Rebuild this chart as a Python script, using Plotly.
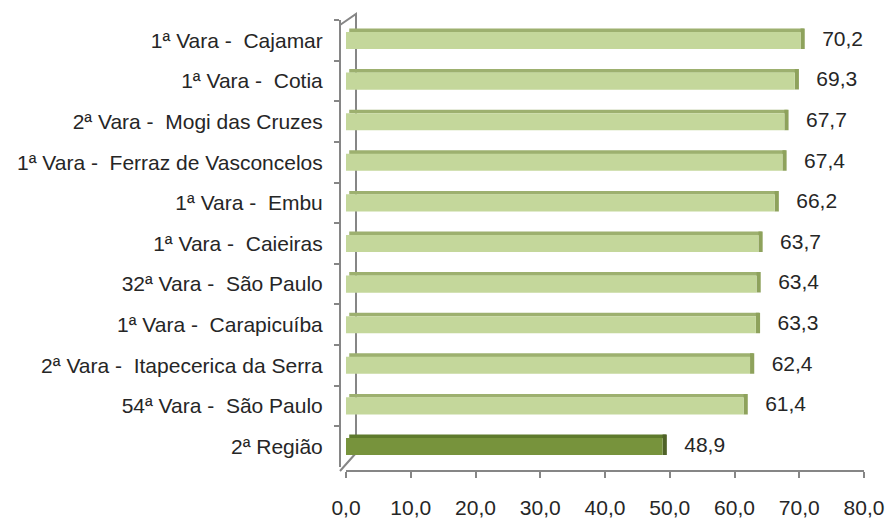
import plotly.graph_objects as go

NBSP = "\u00a0"
categories = [
    "1ª Vara - " + NBSP + "Cajamar",
    "1ª Vara - " + NBSP + "Cotia",
    "2ª Vara - " + NBSP + "Mogi das Cruzes",
    "1ª Vara - " + NBSP + "Ferraz de Vasconcelos",
    "1ª Vara - " + NBSP + "Embu",
    "1ª Vara - " + NBSP + "Caieiras",
    "32ª Vara - " + NBSP + "São Paulo",
    "1ª Vara - " + NBSP + "Carapicuíba",
    "2ª Vara - " + NBSP + "Itapecerica da Serra",
    "54ª Vara - " + NBSP + "São Paulo",
    "2ª Região",
]
values = [70.2, 69.3, 67.7, 67.4, 66.2, 63.7, 63.4, 63.3, 62.4, 61.4, 48.9]
x_ticks = [0, 10, 20, 30, 40, 50, 60, 70, 80]

n = len(categories)
front_col = ["#C4D79B"] * (n - 1) + ["#77933C"]
top_col = ["#9DB06F"] * (n - 1) + ["#5E7A2C"]
side_col = ["#8EA25C"] * (n - 1) + ["#4F6228"]

FONT = "Liberation Sans, Arial, sans-serif"
TXT = "#262626"
AX = "#868686"

OFFX, OFFY = 6, 0
W, H = 888, 519
L, R, T, B = 346 - OFFX, 870 - OFFX, 14 - OFFY, 471 - OFFY
pw, ph = R - L, B - T


def fy(py):
    return (B - (py - OFFY)) / ph


def fx(px):
    return ((px - OFFX) - L) / pw


fig = go.Figure()

# top face of the 3D bars
fig.add_trace(go.Bar(
    y=categories, x=values, base=[0.5] * n, orientation="h",
    width=0.09, offset=-0.296, marker=dict(color=top_col, line=dict(width=0)),
    xaxis="x", yaxis="y", hoverinfo="skip", showlegend=False))
# side face
fig.add_trace(go.Bar(
    y=categories, x=[0.65] * n, base=values, orientation="h",
    width=0.505, offset=-0.296, marker=dict(color=side_col, line=dict(width=0)),
    xaxis="x", yaxis="y", hoverinfo="skip", showlegend=False))
# front face
fig.add_trace(go.Bar(
    y=categories, x=values, orientation="h",
    width=0.42, offset=-0.21, marker=dict(color=front_col, line=dict(width=0)),
    xaxis="x", yaxis="y", hoverinfo="skip", showlegend=False))
# value labels
fig.add_trace(go.Scatter(
    y=categories, x=values, mode="markers+text",
    marker=dict(size=33, color="rgba(0,0,0,0)"),
    texttemplate="%{x:.1f}", textposition="middle right",
    textfont=dict(family=FONT, size=21, color=TXT),
    xaxis="x", yaxis="y", hoverinfo="skip", showlegend=False, cliponaxis=False))
# dummy trace to populate front axes
fig.add_trace(go.Scatter(
    y=categories, x=values, mode="markers", marker=dict(opacity=0),
    xaxis="x2", yaxis="y2", hoverinfo="skip", showlegend=False))

fig.update_layout(
    width=W, height=H,
    margin=dict(l=L, r=W - R, t=T, b=H - B, pad=0),
    paper_bgcolor="white", plot_bgcolor="white",
    template="none",
    separators=",.",
    barmode="overlay",
    font=dict(family=FONT, size=21, color=TXT),
    xaxis=dict(domain=[fx(352), 1], range=[0, 80], visible=False,
               anchor="y", automargin=False, fixedrange=True),
    yaxis=dict(domain=[fy(466.8), fy(20.2)], range=[n - 0.5, -0.5],
               type="category", categoryorder="array", categoryarray=categories,
               visible=False, anchor="x", automargin=False, fixedrange=True),
    xaxis2=dict(domain=[0, fx(864)], range=[0, 80], anchor="free", position=0,
                overlaying="x", tickvals=x_ticks, tickformat=".1f",
                showline=True, linecolor=AX, linewidth=2,
                ticks="outside", ticklen=6, tickwidth=2, tickcolor=AX,
                ticklabelstandoff=12, ticklabeloverflow="allow",
                showgrid=False, zeroline=False,
                tickfont=dict(family=FONT, size=21, color=TXT),
                automargin=False, fixedrange=True),
    yaxis2=dict(domain=[0, fy(25)], range=[n - 0.5, -0.5], anchor="free",
                position=0, overlaying="y", type="category",
                categoryorder="array", categoryarray=categories,
                tickson="boundaries", ticks="outside", ticklen=5,
                tickwidth=2, tickcolor=AX, showline=True, linecolor=AX,
                linewidth=2, showgrid=False, zeroline=False,
                ticklabelstandoff=12,
                tickfont=dict(family=FONT, size=21, color=TXT),
                automargin=False, fixedrange=True),
    shapes=[dict(type="path", xref="paper", yref="paper",
                 path=f"M 0 {fy(25)} L {fx(362)} {fy(14)} L {fx(362)} {fy(453)} L 0 0",
                 line=dict(color=AX, width=2), layer="below")],
)

fig.write_html(
    "out.html",
    config={"displayModeBar": False},
    post_script="document.body.style.margin='0';document.body.style.overflow='hidden';",
)
